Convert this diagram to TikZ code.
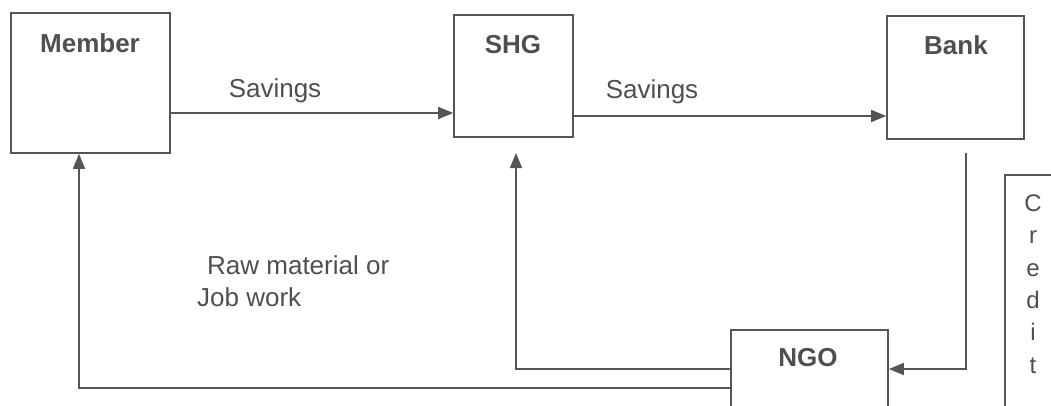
\documentclass[tikz,border=0pt]{standalone}
\usepackage{fontspec}
\setmainfont{Liberation Sans}
\usetikzlibrary{arrows.meta}
\definecolor{ink}{HTML}{555555}
\definecolor{txt}{HTML}{4F4F4F}
\tikzset{
  box/.style={draw=ink, line width=1.6pt, fill=none, inner sep=0pt},
  lbl/.style={text=txt, font=\fontsize{26}{31}\selectfont\bfseries, inner sep=0pt},
  plain/.style={text=txt, font=\fontsize{26}{32}\selectfont, inner sep=0pt},
  conn/.style={draw=ink, line width=1.6pt},
  arr/.style={conn, -{Triangle[length=15pt,width=12pt]}}
}
\begin{document}
\begin{tikzpicture}[x=1pt,y=-1pt]
\useasboundingbox (0,0) rectangle (1051,405);
\clip (0,0) rectangle (1051,405);
% boxes
\node[box, minimum width=159pt, minimum height=140pt] (member) at (90.5,83) {};
\node[box, minimum width=119pt, minimum height=122pt] (shg) at (513.5,76) {};
\node[box, minimum width=137pt, minimum height=123pt] (bank) at (955.5,77.5) {};
\node[box, minimum width=157pt, minimum height=90pt] (ngo) at (809.5,375) {};
\node[box, minimum width=60pt, minimum height=250pt] (credit) at (1035,300) {};
% box labels
\node[lbl] (memberlbl) at (90,43) {Member};
\node[lbl] (shglbl) at (513,45) {SHG};
\node[lbl] (banklbl) at (956,45) {Bank};
\node[lbl] (ngolbl) at (808,358) {NGO};
\node[plain, align=center, font=\fontsize{24}{32.4}\selectfont] (creditlbl) at (1033,284) {C\\r\\e\\d\\i\\t};
% edge labels
\node[plain] (sav1) at (275,91) {Savings};
\node[plain] (sav2) at (652,92) {Savings};
\node[plain, align=left, anchor=west] (raw) at (197,281) {\hspace*{10pt}Raw material or\\Job work};
% level coordinates
\coordinate (ya) at (0,113);
\coordinate (yb) at (0,116);
\coordinate (yn1) at (0,369);
\coordinate (yn2) at (0,388);
\coordinate (bs) at (966,153);
\coordinate (shgup) at (516,153);
\coordinate (memup) at (79,0);
% connectors
\draw[arr] (member.east |- ya) -- (shg.west |- ya);
\draw[arr] (shg.east |- yb) -- (bank.west |- yb);
\draw[arr] (bs) |- (ngo.east |- yn1);
\draw[arr] (ngo.west |- yn1) -| (shgup);
\draw[arr] (ngo.west |- yn2) -| (memup |- member.south);
\end{tikzpicture}
\end{document}
